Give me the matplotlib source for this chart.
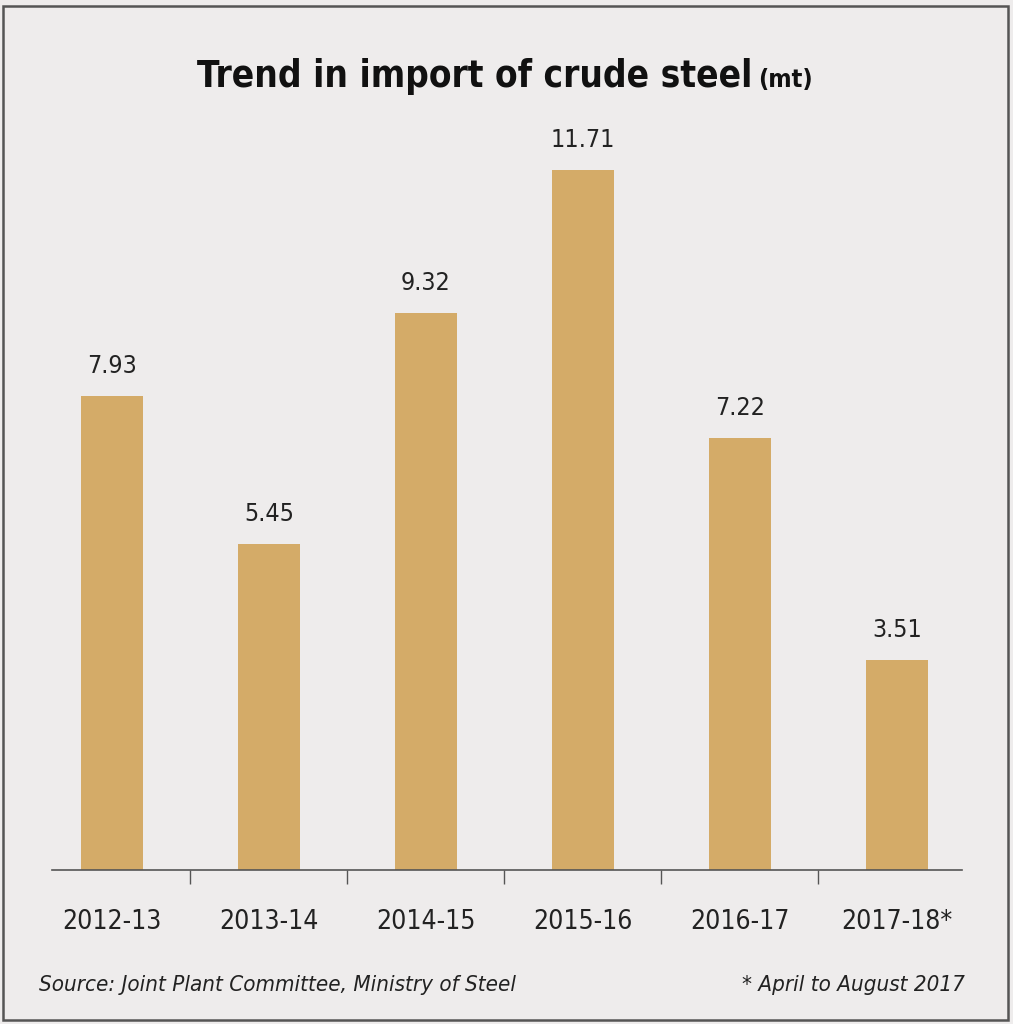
import matplotlib.pyplot as plt
from matplotlib.patches import Rectangle

years = ["2012-13", "2013-14", "2014-15", "2015-16", "2016-17", "2017-18*"]
imports_mt = [7.93, 5.45, 9.32, 11.71, 7.22, 3.51]

bg = "#eeecec"
bar_color = "#d4ab68"
# narrowest installed sans: DejaVu Sans Condensed
txt = dict(family="DejaVu Sans", fontstretch="condensed")

fig = plt.figure(figsize=(10.13, 10.24), dpi=100, facecolor=bg)
fig.patches.append(Rectangle((3 / 1013, 4 / 1024), 1005 / 1013, 1014 / 1024,
                             transform=fig.transFigure, fill=False,
                             edgecolor="#555555", linewidth=1.8))

ax = fig.add_axes([52 / 1013, 1 - 870 / 1024, 910 / 1013, 770 / 1024])
ax.set_facecolor(bg)
x = range(len(years))
bars = ax.bar(x, imports_mt, width=0.4, color=bar_color)
ax.set_xlim(-0.382, 5.414)
ax.set_ylim(0, 12.88)

for b, v in zip(bars, imports_mt):
    ax.annotate(f"{v:.2f}", (b.get_x() + b.get_width() / 2, v),
                xytext=(0, 13), textcoords="offset points",
                ha="center", va="bottom", fontsize=18, color="#222222", **txt)

for s in ["top", "right", "left"]:
    ax.spines[s].set_visible(False)
ax.spines["bottom"].set_color("#555555")
ax.spines["bottom"].set_linewidth(1.2)
ax.set_yticks([])
ax.set_xticks([i + 0.5 for i in range(len(years) - 1)])
ax.set_xticklabels([])
ax.set_xticks(list(x), minor=True)
ax.set_xticklabels(years, minor=True, fontsize=19, color="#222222", **txt)
ax.tick_params(axis="x", which="major", length=10, width=1, color="#555555")
ax.tick_params(axis="x", which="minor", length=0, pad=28)

fig.text(752 / 1013, 1 - 87 / 1024, "Trend in import of crude steel",
         ha="right", va="baseline", fontsize=26.5, fontweight="bold",
         color="#111111", **txt)
fig.text(758 / 1013, 1 - 87 / 1024, "(mt)", ha="left", va="baseline",
         fontsize=18, fontweight="bold", color="#111111", **txt)

fig.text(39 / 1013, 1 - 991 / 1024, "Source: Joint Plant Committee, Ministry of Steel",
         ha="left", va="baseline", fontsize=16, style="italic",
         color="#222222", **txt)
fig.text(965 / 1013, 1 - 991 / 1024, "* April to August 2017",
         ha="right", va="baseline", fontsize=16, style="italic",
         color="#222222", **txt)

fig.savefig("out.png", dpi=100, facecolor=bg)
